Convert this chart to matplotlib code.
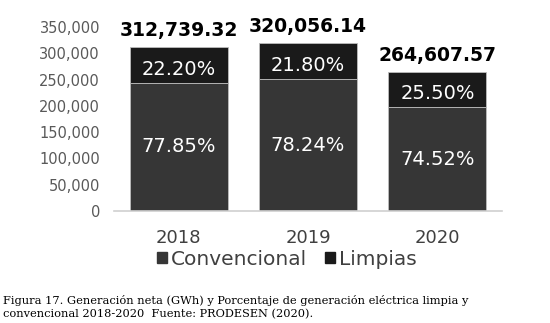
import matplotlib.pyplot as plt
from matplotlib.patches import Patch
from matplotlib.ticker import FuncFormatter

# datos
years = ["2018", "2019", "2020"]
totals = [312739.32, 320056.14, 264607.57]
conv_pct = [77.85, 78.24, 74.52]
limp_pct = [22.20, 21.80, 25.50]
total_labels = ["312,739.32", "320,056.14", "264,607.57"]
conv_labels = ["77.85%", "78.24%", "74.52%"]
limp_labels = ["22.20%", "21.80%", "25.50%"]
caption = ("Figura 17. Generación neta (GWh) y Porcentaje de generación eléctrica limpia y\n"
           "convencional 2018-2020  Fuente: PRODESEN (2020).")

conv_color = "#363636"
limp_color = "#1a1a1a"

fig = plt.figure(figsize=(5.5, 3.23), dpi=100)
ax = fig.add_axes([0.207, 0.347, 0.706, 0.569])

x = list(range(len(years)))
conv_vals = [t * p / 100 for t, p in zip(totals, conv_pct)]
limp_vals = [t * p / 100 for t, p in zip(totals, limp_pct)]

ax.bar(x, conv_vals, width=0.757, color=conv_color, edgecolor="#bdbdbd", linewidth=0.6)
ax.bar(x, limp_vals, bottom=conv_vals, width=0.757, color=limp_color, edgecolor="#bdbdbd", linewidth=0.6)

for i in x:
    ax.text(i, conv_vals[i] / 2, conv_labels[i], ha="center", va="center",
            color="white", fontsize=14)
    # la etiqueta de arriba queda un poco por debajo del centro
    ax.annotate(limp_labels[i], (i, conv_vals[i] + limp_vals[i] / 2), xytext=(0, -3),
                textcoords="offset points", ha="center", va="center",
                color="white", fontsize=14)
    ax.annotate(total_labels[i], (i, conv_vals[i] + limp_vals[i]), xytext=(0, 8),
                textcoords="offset points", ha="center", va="baseline",
                fontsize=13.5, fontweight="bold", color="black")

ax.set_xlim(-0.5, 2.5)
ax.set_ylim(0, 350000)
ax.set_yticks(range(0, 350001, 50000))
ax.yaxis.set_major_formatter(FuncFormatter(lambda v, p: f"{int(v):,}"))
ax.set_xticks(x)
ax.set_xticklabels(years)
ax.tick_params(axis="y", length=0, pad=10, labelsize=10.5, labelcolor="#595959")
ax.tick_params(axis="x", length=0, pad=13, labelsize=13, labelcolor="#404040")
for s in ["top", "right", "left"]:
    ax.spines[s].set_visible(False)
ax.spines["bottom"].set_color("#d0d0d0")
ax.spines["bottom"].set_linewidth(1.2)

handles = [Patch(color=conv_color, label="Convencional"),
           Patch(color=limp_color, label="Limpias")]
leg = fig.legend(handles=handles, loc="center", bbox_to_anchor=(0.522, 0.198), ncol=2,
                 frameon=False, fontsize=14.5, handlelength=0.5, handleheight=0.5,
                 handletextpad=0.2, columnspacing=0.9, borderaxespad=0, borderpad=0)
for t in leg.get_texts():
    t.set_color("#404040")

fig.text(0.006, 0.012, caption, family="DejaVu Serif", fontsize=8.2, color="black",
         ha="left", va="bottom", linespacing=1.3)

fig.savefig("out.png", dpi=100)
